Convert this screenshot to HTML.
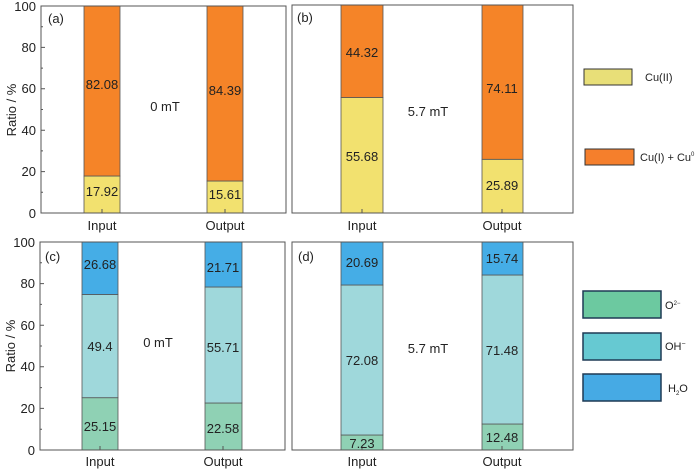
<!DOCTYPE html><html><head><style>body{margin:0;background:#fff}svg{display:block;font-family:"Liberation Sans",Arial,sans-serif}</style></head><body>
<svg width="700" height="469" viewBox="0 0 700 469" xmlns="http://www.w3.org/2000/svg">
<g stroke="#555" stroke-width="0.8">
<rect x="84" y="176" width="36" height="37" fill="#f2e16f"/>
<rect x="84" y="6" width="36" height="170" fill="#f58428"/>
<rect x="207" y="181" width="36" height="32" fill="#f2e16f"/>
<rect x="207" y="6" width="36" height="175" fill="#f58428"/>
<rect x="341" y="97.5" width="42" height="115.5" fill="#f2e16f"/>
<rect x="341" y="5" width="42" height="92.5" fill="#f58428"/>
<rect x="482" y="159.3" width="41" height="53.7" fill="#f2e16f"/>
<rect x="482" y="5" width="41" height="154.3" fill="#f58428"/>
<rect x="82" y="397.7" width="36" height="52.3" fill="#8fd1b4"/>
<rect x="82" y="294.5" width="36" height="103.2" fill="#9fd8db"/>
<rect x="82" y="242" width="36" height="52.5" fill="#45ade6"/>
<rect x="205" y="403" width="37" height="47" fill="#8fd1b4"/>
<rect x="205" y="287" width="37" height="116" fill="#9fd8db"/>
<rect x="205" y="242" width="37" height="45" fill="#45ade6"/>
<rect x="341" y="435" width="42" height="15" fill="#8fd1b4"/>
<rect x="341" y="285" width="42" height="150" fill="#9fd8db"/>
<rect x="341" y="242" width="42" height="43" fill="#45ade6"/>
<rect x="482" y="424" width="41" height="26" fill="#8fd1b4"/>
<rect x="482" y="275" width="41" height="149" fill="#9fd8db"/>
<rect x="482" y="242" width="41" height="33" fill="#45ade6"/>
</g>
<g fill="none" stroke="#555" stroke-width="1">
<rect x="41" y="6" width="245" height="207"/>
<rect x="292" y="5" width="281" height="208"/>
<rect x="40" y="242" width="245" height="208"/>
<rect x="292" y="242" width="281" height="208"/>
</g>
<g stroke="#555" stroke-width="1">
<path d="M41 213h4M41 171.6h4M41 130.2h4M41 88.8h4M41 47.4h4M41 6h4M41 192.3h2M41 150.9h2M41 109.5h2M41 68.1h2M41 26.7h2"/>
<path d="M40 450h4M40 408.4h4M40 366.8h4M40 325.2h4M40 283.6h4M40 242h4M40 429.2h2M40 387.6h2M40 346h2M40 304.4h2M40 262.8h2"/>
<path d="M102 213v-4M225 213v-4M362 213v-4M502 213v-4M100 450v-4M223 450v-4M362 450v-4M502 450v-4"/>
</g>
<g font-size="13" fill="#222" text-anchor="end">
<text x="36" y="218">0</text><text x="36" y="176">20</text><text x="36" y="135">40</text><text x="36" y="93">60</text><text x="36" y="52">80</text><text x="36" y="11">100</text>
<text x="35" y="455">0</text><text x="35" y="413">20</text><text x="35" y="371">40</text><text x="35" y="330">60</text><text x="35" y="288">80</text><text x="35" y="247">100</text>
</g>
<g font-size="13" fill="#222">
<text transform="translate(16,110) rotate(-90)" text-anchor="middle">Ratio / %</text>
<text transform="translate(15,346) rotate(-90)" text-anchor="middle">Ratio / %</text>
<text x="48" y="23">(a)</text><text x="297" y="22">(b)</text><text x="45" y="261">(c)</text><text x="298" y="261">(d)</text>
</g>
<g font-size="13" fill="#222" text-anchor="middle">
<text x="102" y="230">Input</text><text x="225" y="230">Output</text><text x="362" y="230">Input</text><text x="502" y="230">Output</text>
<text x="100" y="466">Input</text><text x="223" y="466">Output</text><text x="362" y="466">Input</text><text x="502" y="466">Output</text>
<text x="165" y="111">0 mT</text><text x="428" y="116">5.7 mT</text>
<text x="158" y="347">0 mT</text><text x="428" y="353">5.7 mT</text>
<text x="102" y="89">82.08</text><text x="102" y="196">17.92</text>
<text x="225" y="95">84.39</text><text x="225" y="199">15.61</text>
<text x="362" y="57">44.32</text><text x="362" y="161">55.68</text>
<text x="502" y="93">74.11</text><text x="502" y="190">25.89</text>
<text x="100" y="269">26.68</text><text x="100" y="351">49.4</text><text x="100" y="431">25.15</text>
<text x="223" y="272">21.71</text><text x="223" y="352">55.71</text><text x="223" y="433">22.58</text>
<text x="362" y="267">20.69</text><text x="362" y="365">72.08</text><text x="362" y="448">7.23</text>
<text x="502" y="263">15.74</text><text x="502" y="355">71.48</text><text x="502" y="442">12.48</text>
</g>
<g stroke="#333" stroke-width="1">
<rect x="584" y="69" width="48" height="16" fill="#e8df78"/>
<rect x="585" y="149" width="49" height="16" fill="#f57f2c"/>
</g>
<g stroke="#1f3a55" stroke-width="1.5">
<rect x="583" y="291" width="78" height="27" fill="#6cc9a0"/>
<rect x="583" y="333" width="78" height="27" fill="#66c9d2"/>
<rect x="583" y="374" width="78" height="27" fill="#46aae4"/>
</g>
<g font-size="11" fill="#222">
<text x="645" y="81">Cu(II)</text>
<text x="640" y="161">Cu(I) + Cu<tspan font-size="6" dy="-5">0</tspan></text>
<text x="665" y="309">O<tspan font-size="6" dy="-4">2−</tspan></text>
<text x="665" y="350">OH<tspan font-size="7" dy="-4">−</tspan></text>
<text x="668" y="392">H<tspan font-size="6" dy="3">2</tspan><tspan dy="-3">O</tspan></text>
</g>
</svg>
</body></html>
